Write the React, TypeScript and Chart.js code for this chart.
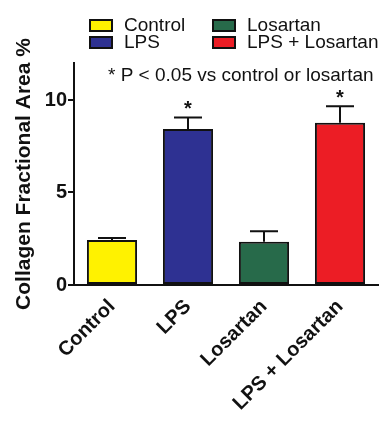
import React, { useEffect, useRef } from "react";
import { Chart, registerables } from "chart.js";

Chart.register(...registerables);

const categories = ["Control", "LPS", "Losartan", "LPS + Losartan"];
const means = [2.43, 8.43, 2.34, 8.77];
const errTops = [2.54, 9.05, 2.9, 9.66];
const significant = [false, true, false, true];
const barColors = ["#FFF200", "#2E3192", "#276A4A", "#EC1D25"];
const yTicks = [0, 5, 10];
const yMax = 12;
const yTitle = "Collagen Fractional Area %";
const noteText = "* P < 0.05 vs control or losartan";

const errorBarPlugin = {
  id: "errorBars",
  afterDatasetsDraw(chart: any) {
    const ctx = chart.ctx;
    const meta = chart.getDatasetMeta(0);
    const y = chart.scales.y;
    ctx.save();
    ctx.strokeStyle = "#111";
    ctx.lineWidth = 2;
    meta.data.forEach((bar: any, i: number) => {
      const x = bar.x;
      const yTop = y.getPixelForValue(errTops[i]);
      const yBar = y.getPixelForValue(means[i]);
      ctx.beginPath();
      ctx.moveTo(x, yBar);
      ctx.lineTo(x, yTop);
      ctx.moveTo(x - 14, yTop);
      ctx.lineTo(x + 14, yTop);
      ctx.stroke();
      if (significant[i]) {
        ctx.fillStyle = "#111";
        ctx.font = "bold 20px 'Liberation Sans', Arial, sans-serif";
        ctx.textAlign = "center";
        ctx.textBaseline = "middle";
        ctx.fillText("*", x, yTop - 8);
      }
    });
    ctx.restore();
  },
};

const legendPlugin = {
  id: "customLegend",
  afterDraw(chart: any) {
    const ctx = chart.ctx;
    const positions = [
      { x: 90, y: 20 },
      { x: 90, y: 37 },
      { x: 213, y: 20 },
      { x: 213, y: 37 },
    ];
    ctx.save();
    ctx.font = "19px 'Liberation Sans', Arial, sans-serif";
    ctx.textBaseline = "middle";
    ctx.textAlign = "left";
    categories.forEach((c, i) => {
      const p = positions[i];
      ctx.fillStyle = barColors[i];
      ctx.fillRect(p.x, p.y, 22, 11);
      ctx.strokeStyle = "#111";
      ctx.lineWidth = 2;
      ctx.strokeRect(p.x, p.y, 22, 11);
      ctx.fillStyle = "#111";
      ctx.fillText(c, p.x + 34, p.y + 6);
    });
    ctx.fillText(noteText, 108, 76);
    ctx.restore();
  },
};

export default function App() {
  const ref = useRef<HTMLCanvasElement | null>(null);
  useEffect(() => {
    if (!ref.current) return;
    const chart = new Chart(ref.current, {
      type: "bar",
      data: {
        labels: categories,
        datasets: [
          {
            data: means,
            backgroundColor: barColors,
            borderColor: "#111",
            borderWidth: 2,
            borderSkipped: false,
            barPercentage: 0.66,
            categoryPercentage: 1,
          },
        ],
      },
      options: {
        animation: false,
        responsive: true,
        maintainAspectRatio: false,
        layout: { padding: { top: 63, right: 2, left: 0, bottom: 0 } },
        plugins: { legend: { display: false }, tooltip: { enabled: false } },
        scales: {
          x: {
            grid: { display: false },
            border: { display: true, color: "#111", width: 2 },
            ticks: {
              color: "#111",
              maxRotation: 45,
              minRotation: 45,
              padding: 2,
              font: { family: "'Liberation Sans', Arial, sans-serif", size: 20, weight: "bold" },
            },
            afterFit(scale: any) {
              scale.height = 136;
            },
          },
          y: {
            min: 0,
            max: yMax,
            afterBuildTicks(scale: any) {
              scale.ticks = yTicks.map((v) => ({ value: v }));
            },
            grid: {
              display: true,
              drawOnChartArea: false,
              drawTicks: true,
              tickLength: 6,
              color: "#111",
              lineWidth: 2,
            },
            border: { display: true, color: "#111", width: 2 },
            ticks: {
              color: "#111",
              padding: 1,
              font: { family: "'Liberation Sans', Arial, sans-serif", size: 20, weight: "bold" },
            },
            title: {
              display: true,
              text: yTitle,
              color: "#111",
              padding: { top: 12, bottom: 0 },
              font: { family: "'Liberation Sans', Arial, sans-serif", size: 21, weight: "bold" },
            },
            afterFit(scale: any) {
              scale.width = 74;
            },
          },
        },
      },
      plugins: [errorBarPlugin, legendPlugin],
    });
    return () => chart.destroy();
  }, []);
  return (
    <div style={{ position: "fixed", left: 0, top: 0, width: 380, height: 421, background: "#fff" }}>
      <canvas ref={ref} />
    </div>
  );
}
